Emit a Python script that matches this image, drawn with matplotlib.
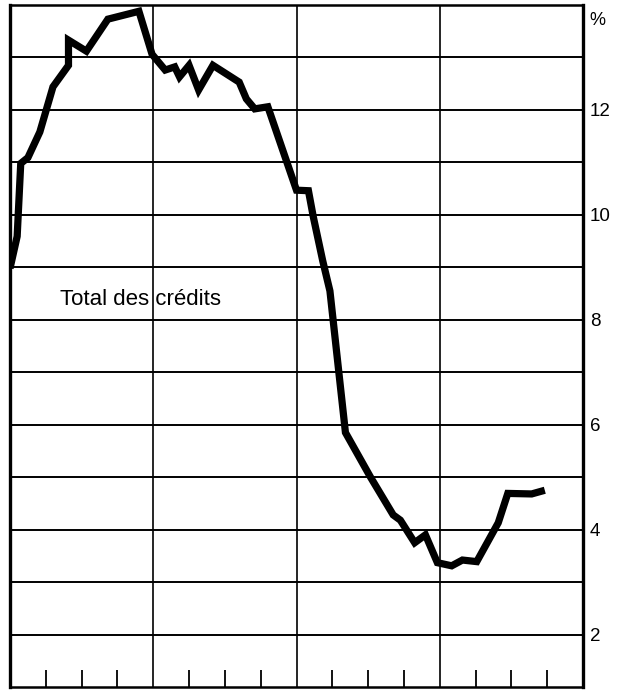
import numpy as np
import matplotlib.pyplot as plt

# months since start of the period, and the growth rate (%)
months = [0, 0.6, 0.9, 1.5, 2.5, 3.6, 4.9, 4.9, 6.4, 8.2, 10.8, 11.9,
          13.0, 13.8, 14.2, 15.0, 15.8, 17.0, 19.2, 19.8, 20.5, 21.6,
          24.0, 25.0, 25.4, 26.2, 26.8, 28.1, 30.2, 32.1, 32.7, 33.9,
          34.8, 35.8, 37.0, 37.9, 39.1, 40.9, 41.7, 43.7, 44.8]
total_credits = [8.98, 9.59, 10.98, 11.09, 11.58, 12.44, 12.85, 13.33, 13.12, 13.73, 13.88, 13.06,
                 12.76, 12.82, 12.63, 12.85, 12.38, 12.85, 12.53, 12.21, 12.02, 12.06,
                 10.47, 10.46, 9.97, 9.12, 8.55, 5.85, 5.0, 4.28, 4.18, 3.75,
                 3.90, 3.37, 3.31, 3.42, 3.39, 4.13, 4.69, 4.68, 4.75]
y_ticks = list(range(2, 14))
y_labels = [str(v) if v % 2 == 0 else "" for v in y_ticks]
series_label = "Total des crédits"

plt.rcParams['font.family'] = ['Liberation Sans', 'DejaVu Sans']

fig = plt.figure(figsize=(6.22, 6.9), dpi=100)
ax = fig.add_axes([10 / 622, 3 / 690, 573 / 622, 682 / 690])

ax.plot(months, total_credits, color="black", lw=5.2,
        solid_joinstyle="miter", solid_capstyle="butt", zorder=3)

ax.set_xlim(0, 48)
ax.set_ylim(1, 14)

ax.set_xticks([12, 24, 36])
ax.set_xticks(np.arange(3, 48, 3), minor=True)
ax.tick_params(axis="x", which="major", length=0, labelbottom=False)
ax.tick_params(axis="x", which="minor", direction="in", length=12, width=1.3, color="black")
ax.grid(axis="x", which="major", color="black", lw=1.2)

ax.set_yticks(y_ticks)
ax.set_yticklabels(y_labels)
ax.yaxis.tick_right()
ax.tick_params(axis="y", length=0, pad=5, labelsize=13.5)
ax.grid(axis="y", color="black", lw=1.4)

for side in ["left", "right"]:
    ax.spines[side].set_linewidth(2.4)
for side in ["top", "bottom"]:
    ax.spines[side].set_linewidth(1.8)

ax.text(1.011, 0.99, "%", transform=ax.transAxes, va="top", ha="left", fontsize=13)
ax.text(4.2, 8.28, series_label, fontsize=16, va="baseline", ha="left")

fig.savefig("out.png", dpi=100)
